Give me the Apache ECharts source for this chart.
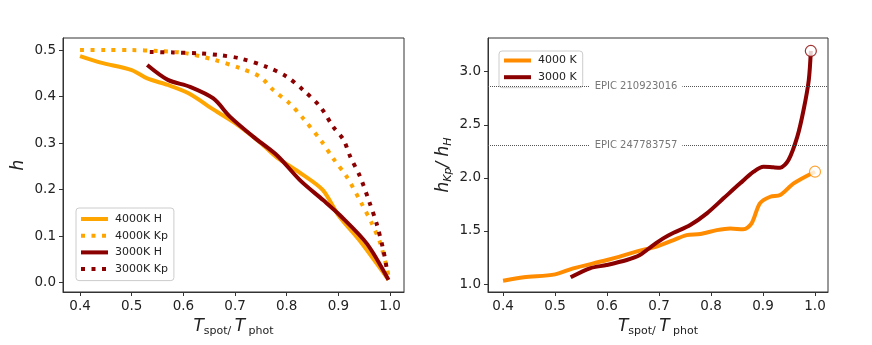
<!DOCTYPE html>
<html>
<head>
<meta charset="utf-8">
<script src="https://cdn.jsdelivr.net/npm/echarts@6/dist/echarts.min.js"></script>
<style>
  html, body { margin: 0; padding: 0; background: #fff; }
  #main { width: 872px; height: 345px; }
</style>
</head>
<body>
<div id="main"></div>
<script>
// left panel: h vs Tspot/Tphot
const h4000H_x = [0.40, 0.44, 0.50, 0.53, 0.57, 0.61, 0.66, 0.70, 0.75, 0.78, 0.83, 0.87, 0.90, 0.94, 0.997];
const h4000H_y = [0.487, 0.473, 0.457, 0.439, 0.425, 0.407, 0.371, 0.343, 0.300, 0.270, 0.233, 0.199, 0.145, 0.092, 0.006];
const h4000Kp_x = [0.40, 0.45, 0.50, 0.55, 0.60, 0.66, 0.71, 0.748, 0.774, 0.806, 0.832, 0.868, 0.89, 0.916, 0.945, 0.965, 0.981, 0.994, 0.998];
const h4000Kp_y = [0.500, 0.500, 0.500, 0.498, 0.494, 0.479, 0.461, 0.443, 0.414, 0.385, 0.353, 0.303, 0.267, 0.228, 0.170, 0.127, 0.085, 0.031, 0.006];
const h3000H_x = [0.53, 0.57, 0.613, 0.658, 0.69, 0.735, 0.781, 0.826, 0.871, 0.903, 0.955, 0.997];
const h3000H_y = [0.468, 0.436, 0.421, 0.396, 0.357, 0.314, 0.274, 0.220, 0.177, 0.145, 0.084, 0.006];
const h3000Kp_x = [0.535, 0.58, 0.632, 0.671, 0.71, 0.761, 0.80, 0.832, 0.865, 0.89, 0.91, 0.923, 0.942, 0.961, 0.974, 0.987, 0.994];
const h3000Kp_y = [0.496, 0.495, 0.493, 0.489, 0.482, 0.464, 0.443, 0.414, 0.378, 0.335, 0.307, 0.271, 0.228, 0.170, 0.127, 0.070, 0.027];

// right panel: hKp/hH ratio
const r4000_x = [0.40, 0.44, 0.50, 0.535, 0.60, 0.663, 0.695, 0.728, 0.753, 0.779, 0.811, 0.837, 0.862, 0.878, 0.894, 0.914, 0.933, 0.959, 1.0];
const r4000_y = [1.031, 1.063, 1.091, 1.148, 1.226, 1.314, 1.352, 1.414, 1.461, 1.471, 1.508, 1.524, 1.515, 1.571, 1.760, 1.822, 1.838, 1.948, 2.058];
const r3000_x = [0.53, 0.567, 0.599, 0.638, 0.663, 0.689, 0.708, 0.728, 0.76, 0.792, 0.824, 0.856, 0.882, 0.901, 0.92, 0.933, 0.949, 0.966, 0.978, 0.988, 0.992];
const r3000_y = [1.063, 1.148, 1.179, 1.226, 1.273, 1.367, 1.430, 1.483, 1.556, 1.666, 1.807, 1.948, 2.058, 2.105, 2.099, 2.096, 2.168, 2.388, 2.639, 2.920, 3.195];
const endPoints4000 = [[1.0, 2.058]];
const endPoints3000 = [[0.992, 3.195]];

// reference stars
const epicNames = ['EPIC 210923016', 'EPIC 247783757'];
const epicValues = [2.859, 2.306];

const xTicks = [0.4, 0.5, 0.6, 0.7, 0.8, 0.9, 1.0];
const hTicks = [0.0, 0.1, 0.2, 0.3, 0.4, 0.5];
const ratioTicks = [1.0, 1.5, 2.0, 2.5, 3.0];

const ORANGE = '#ffa500';
const DARKORANGE = '#ff8c00';
const DARKRED = '#8b0000';
const FONT = 'DejaVu Sans';

function pairs(xs, ys) {
  return xs.map((x, i) => [x, ys[i]]);
}

const xName = '{t|T}{s|spot/ }{t|T}{s| phot}';
const nameRich = {
  t: { fontFamily: FONT, fontStyle: 'italic', fontSize: 17, color: '#222', lineHeight: 20, verticalAlign: 'top' },
  s: { fontFamily: FONT, fontSize: 11, color: '#222', lineHeight: 12, padding: [8, 0, 0, 0], verticalAlign: 'top' },
  si: { fontFamily: FONT, fontStyle: 'italic', fontSize: 11, color: '#222', lineHeight: 12, padding: [8, 0, 0, 0], verticalAlign: 'top' }
};

function xAxisCfg(gi) {
  return {
    gridIndex: gi, type: 'value', min: gi === 0 ? 0.367 : 0.371, max: gi === 0 ? 1.027 : 1.025,
    axisLine: { show: true, onZero: false, lineStyle: { color: '#333', width: 1 } },
    axisTick: { show: true, inside: false, length: 4, customValues: xTicks, lineStyle: { color: '#333' } },
    axisLabel: { customValues: xTicks, formatter: v => v.toFixed(1), fontFamily: FONT, fontSize: 13.5, color: '#222', margin: 7 },
    splitLine: { show: false },
    name: xName, nameLocation: 'middle', nameGap: 22,
    nameTextStyle: { rich: nameRich }
  };
}

function yAxisCfg(gi, min, max, ticks, name) {
  return {
    gridIndex: gi, type: 'value', min: min, max: max,
    axisLine: { show: true, onZero: false, lineStyle: { color: '#333', width: 1 } },
    axisTick: { show: true, inside: false, length: 4, customValues: ticks, lineStyle: { color: '#333' } },
    axisLabel: { customValues: ticks, formatter: v => v.toFixed(1), fontFamily: FONT, fontSize: 13.5, color: '#222', margin: 7 },
    splitLine: { show: false },
    name: name, nameLocation: 'middle', nameGap: 33, nameRotate: 90,
    nameTextStyle: { rich: nameRich }
  };
}

function line(name, xi, data, color, dotted) {
  return {
    name: name, type: 'line', xAxisIndex: xi, yAxisIndex: xi,
    data: data, showSymbol: false, symbol: 'none', smooth: 0.3,
    lineStyle: { color: color, width: 4, type: dotted ? [4, 6.5] : 'solid', cap: 'butt' },
    itemStyle: { color: color },
    emphasis: { disabled: true }, z: 3
  };
}

// legend shows only the line sample, no symbol
const legendBase = {
  orient: 'vertical', itemWidth: 27, itemHeight: 4, itemGap: 3.7,
  backgroundColor: '#fff', borderColor: '#ccc', borderWidth: 1, borderRadius: 3,
  itemStyle: { opacity: 0 },
  lineStyle: { width: 4 },
  textStyle: { fontFamily: FONT, fontSize: 11, lineHeight: 13, color: '#222', padding: [0, 0, 0, 2] },
  selectedMode: false
};

const myChart = echarts.init(document.getElementById('main'));

const ratio4000 = line('4000 K', 1, pairs(r4000_x, r4000_y), DARKORANGE, false);
ratio4000.markLine = {
  silent: true, symbol: 'none', animation: false,
  lineStyle: { color: '#555', width: 1, type: [1, 1] },
  label: {
    show: true, position: 'middle', formatter: '{b}', offset: [-22, 11],
    fontFamily: FONT, fontSize: 10, color: '#777',
    backgroundColor: '#fff', padding: [1, 5]
  },
  data: epicNames.map((n, i) => ({ name: n, yAxis: epicValues[i] }))
};

const option = {
  animation: false,
  grid: [
    { left: 63, right: 468, top: 38, bottom: 53, show: true, borderColor: '#333', borderWidth: 1, backgroundColor: 'transparent' },
    { left: 488, right: 44, top: 38, bottom: 53, show: true, borderColor: '#333', borderWidth: 1, backgroundColor: 'transparent' }
  ],
  xAxis: [xAxisCfg(0), xAxisCfg(1)],
  yAxis: [
    yAxisCfg(0, -0.02, 0.526, hTicks, '{t|h}'),
    yAxisCfg(1, 0.925, 3.317, ratioTicks, '{t|h}{si|Kp}{t|/ h}{si|H}')
  ],
  legend: [
    Object.assign({}, legendBase, { left: 76, top: 208, padding: [4.5, 6, 5, 3], data: ['4000K H', '4000K Kp', '3000K H', '3000K Kp'] }),
    Object.assign({}, legendBase, { left: 499, top: 51, padding: [3, 6, 4, 3], data: ['4000 K', '3000 K'] })
  ],
  series: [
    line('4000K H', 0, pairs(h4000H_x, h4000H_y), ORANGE, false),
    line('4000K Kp', 0, pairs(h4000Kp_x, h4000Kp_y), ORANGE, true),
    line('3000K H', 0, pairs(h3000H_x, h3000H_y), DARKRED, false),
    line('3000K Kp', 0, pairs(h3000Kp_x, h3000Kp_y), DARKRED, true),
    ratio4000,
    line('3000 K', 1, pairs(r3000_x, r3000_y), DARKRED, false),
    {
      type: 'scatter', xAxisIndex: 1, yAxisIndex: 1, data: endPoints4000, symbolSize: 11, z: 4,
      itemStyle: { color: '#fff', borderColor: DARKORANGE, borderWidth: 1.2 }, silent: true
    },
    {
      type: 'scatter', xAxisIndex: 1, yAxisIndex: 1, data: endPoints3000, symbolSize: 11, z: 4,
      itemStyle: { color: '#fff', borderColor: DARKRED, borderWidth: 1.2 }, silent: true
    }
  ]
};

myChart.setOption(option);
window.onresize = myChart.resize;
</script>
</body>
</html>
